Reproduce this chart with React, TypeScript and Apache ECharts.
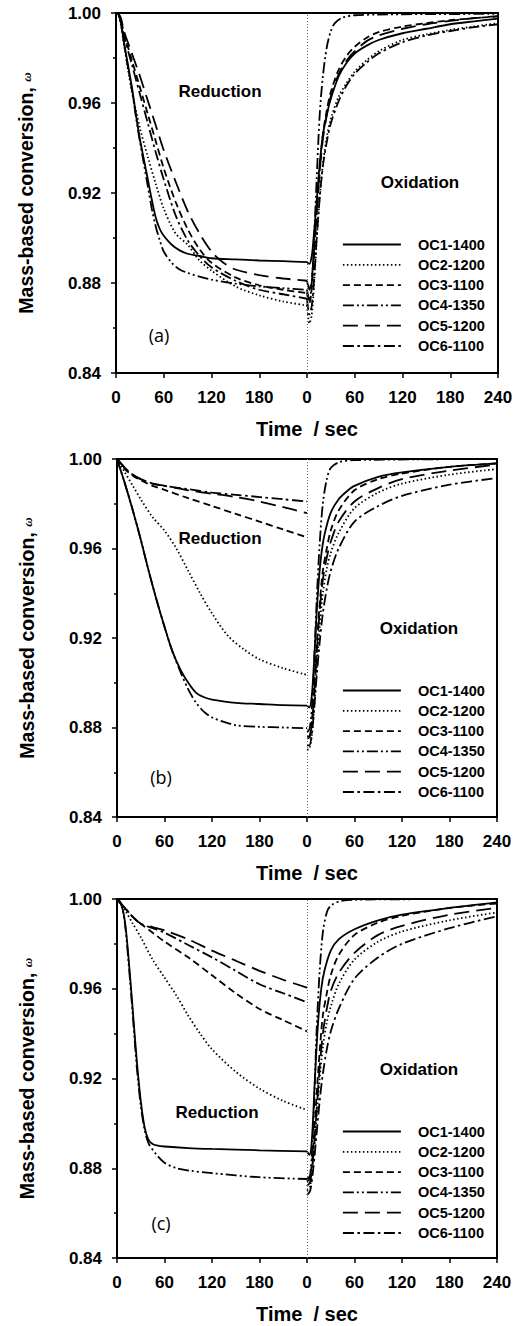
import React, { useEffect, useRef } from "react";
import * as echarts from "echarts";

const NAMES = ["OC1-1400", "OC2-1200", "OC3-1100", "OC4-1350", "OC5-1200", "OC6-1100"];
const X_TICK_LABELS = [0, 60, 120, 180, 0, 60, 120, 180, 240];
const PANEL_TAGS = ["(a)", "(b)", "(c)"];

// ---------- Panel (a) ----------
const aOC1Red = [[0,1.0],[3,0.9995],[6,0.996],[10,0.987],[15,0.977],[20,0.967],[25,0.955],[30,0.944],[35,0.935],[40,0.926],[45,0.917],[50,0.909],[55,0.904],[60,0.901],[70,0.897],[80,0.8945],[90,0.893],[105,0.892],[120,0.891],[150,0.8905],[180,0.89],[210,0.8897],[240,0.8893]];
const aOC2Red = [[0,1.0],[3,0.999],[6,0.995],[10,0.986],[15,0.975],[20,0.965],[30,0.949],[40,0.936],[50,0.924],[60,0.913],[75,0.902],[90,0.897],[105,0.89],[120,0.8855],[150,0.8785],[180,0.8745],[210,0.8718],[240,0.87]];
const aOC3Red = [[0,1.0],[3,0.9995],[6,0.997],[10,0.991],[20,0.979],[30,0.967],[40,0.955],[50,0.943],[60,0.931],[75,0.916],[90,0.904],[105,0.895],[120,0.889],[150,0.8825],[180,0.879],[210,0.877],[240,0.8755]];
const aOC4Red = [[0,1.0],[3,0.9995],[6,0.996],[10,0.987],[15,0.976],[20,0.966],[25,0.954],[30,0.943],[35,0.933],[40,0.923],[45,0.913],[50,0.905],[55,0.899],[60,0.894],[70,0.889],[80,0.886],[90,0.8845],[105,0.8828],[120,0.8815],[150,0.8797],[180,0.8785],[210,0.8777],[240,0.877]];
const aOC5Red = [[0,1.0],[3,0.9995],[6,0.998],[10,0.992],[20,0.982],[30,0.972],[40,0.961],[50,0.95],[60,0.939],[75,0.925],[90,0.912],[105,0.902],[120,0.894],[135,0.889],[150,0.886],[180,0.8835],[210,0.882],[240,0.881]];
const aOC6Red = [[0,1.0],[3,0.9995],[6,0.997],[10,0.99],[20,0.977],[30,0.964],[40,0.951],[50,0.938],[60,0.926],[75,0.91],[90,0.899],[105,0.892],[120,0.887],[150,0.881],[180,0.877],[210,0.875],[240,0.873]];

const aOC1Ox = [[0,0.8893],[3,0.8885],[6,0.892],[8,0.899],[10,0.907],[13,0.92],[16,0.933],[20,0.946],[25,0.955],[30,0.962],[40,0.972],[50,0.978],[60,0.982],[75,0.9855],[90,0.988],[120,0.991],[150,0.993],[180,0.995],[210,0.9963],[240,0.9975]];
const aOC2Ox = [[0,0.87],[3,0.862],[6,0.866],[9,0.88],[12,0.898],[16,0.918],[20,0.933],[25,0.945],[30,0.953],[40,0.963],[50,0.969],[60,0.974],[75,0.979],[90,0.983],[120,0.988],[150,0.9905],[180,0.9925],[210,0.994],[240,0.9955]];
const aOC3Ox = [[0,0.8755],[3,0.871],[6,0.878],[9,0.893],[12,0.91],[16,0.93],[20,0.946],[25,0.957],[30,0.965],[40,0.975],[50,0.981],[60,0.985],[75,0.989],[90,0.9915],[120,0.994],[150,0.9955],[180,0.9968],[210,0.9977],[240,0.9985]];
const aOC4Ox = [[0,0.877],[3,0.872],[6,0.88],[9,0.9],[12,0.925],[16,0.955],[20,0.972],[25,0.985],[30,0.992],[35,0.9955],[45,0.998],[60,0.999],[90,0.9993],[150,0.9995],[240,0.9996]];
const aOC5Ox = [[0,0.881],[3,0.877],[6,0.882],[9,0.895],[12,0.911],[16,0.93],[20,0.944],[25,0.955],[30,0.963],[40,0.973],[50,0.979],[60,0.983],[75,0.9875],[90,0.99],[120,0.993],[150,0.995],[180,0.9965],[210,0.9977],[240,0.9986]];
const aOC6Ox = [[0,0.873],[3,0.866],[6,0.87],[9,0.882],[12,0.899],[16,0.918],[20,0.932],[25,0.943],[30,0.951],[40,0.961],[50,0.968],[60,0.973],[75,0.978],[90,0.982],[120,0.987],[150,0.99],[180,0.992],[210,0.9937],[240,0.995]];

// ---------- Panel (b) ----------
const bOC1Red = [[0,1.0],[10,0.989],[20,0.977],[30,0.964],[40,0.95],[50,0.937],[60,0.925],[70,0.914],[80,0.906],[90,0.9],[100,0.8955],[110,0.8935],[120,0.8925],[150,0.891],[180,0.8905],[210,0.89],[240,0.8898]];
const bOC2Red = [[0,1.0],[10,0.994],[20,0.988],[30,0.982],[45,0.974],[60,0.968],[75,0.96],[90,0.95],[105,0.94],[120,0.931],[140,0.921],[160,0.915],[180,0.9105],[210,0.9065],[240,0.9035]];
const bOC3Red = [[0,1.0],[5,0.998],[10,0.9955],[20,0.9925],[30,0.9905],[45,0.988],[60,0.9862],[90,0.9825],[120,0.979],[150,0.9755],[180,0.972],[210,0.9685],[240,0.965]];
const bOC4Red = [[0,1.0],[10,0.989],[20,0.977],[30,0.964],[40,0.95],[50,0.937],[60,0.925],[70,0.914],[80,0.905],[90,0.897],[100,0.891],[110,0.887],[120,0.8845],[135,0.8825],[150,0.881],[180,0.8803],[210,0.88],[240,0.8797]];
const bOC5Red = [[0,1.0],[5,0.998],[10,0.996],[20,0.993],[30,0.991],[45,0.989],[60,0.988],[90,0.986],[120,0.9845],[150,0.983],[180,0.981],[210,0.9785],[240,0.9758]];
const bOC6Red = [[0,1.0],[5,0.998],[10,0.996],[20,0.993],[30,0.991],[45,0.989],[60,0.988],[90,0.9865],[120,0.985],[150,0.984],[180,0.983],[210,0.982],[240,0.981]];

const bOC1Ox = [[0,0.8898],[3,0.889],[6,0.894],[9,0.91],[12,0.93],[15,0.946],[18,0.957],[22,0.966],[30,0.976],[40,0.982],[50,0.9855],[60,0.988],[90,0.992],[120,0.994],[180,0.9965],[240,0.998]];
const bOC2Ox = [[0,0.87],[3,0.8705],[6,0.876],[9,0.889],[12,0.905],[16,0.925],[20,0.94],[25,0.951],[30,0.958],[40,0.967],[60,0.978],[90,0.985],[120,0.989],[180,0.993],[240,0.9955]];
const bOC3Ox = [[0,0.876],[3,0.876],[6,0.882],[9,0.896],[12,0.915],[16,0.935],[20,0.95],[25,0.96],[30,0.968],[40,0.977],[60,0.986],[90,0.991],[120,0.9935],[180,0.9965],[240,0.998]];
const bOC4Ox = [[0,0.878],[3,0.879],[6,0.888],[9,0.908],[12,0.935],[16,0.962],[20,0.98],[25,0.991],[30,0.996],[40,0.9985],[60,0.9995],[240,1.0]];
const bOC5Ox = [[0,0.875],[3,0.8755],[6,0.881],[9,0.894],[12,0.912],[16,0.932],[20,0.946],[25,0.956],[30,0.963],[40,0.972],[60,0.981],[90,0.987],[120,0.991],[180,0.9948],[240,0.9975]];
const bOC6Ox = [[0,0.872],[3,0.872],[6,0.877],[9,0.888],[12,0.902],[16,0.918],[20,0.931],[25,0.942],[30,0.95],[40,0.96],[60,0.972],[90,0.979],[120,0.9835],[180,0.9885],[240,0.9915]];

// ---------- Panel (c) ----------
const cOC1Red = [[0,1.0],[5,0.998],[10,0.99],[15,0.972],[20,0.95],[25,0.928],[30,0.91],[35,0.898],[40,0.8925],[45,0.8908],[50,0.8902],[60,0.8897],[90,0.889],[120,0.8886],[180,0.888],[240,0.8875]];
const cOC2Red = [[0,1.0],[10,0.995],[20,0.989],[30,0.983],[45,0.973],[60,0.965],[75,0.957],[90,0.948],[105,0.94],[120,0.933],[150,0.923],[180,0.9155],[210,0.91],[240,0.906]];
const cOC3Red = [[0,1.0],[5,0.998],[10,0.996],[20,0.992],[30,0.989],[45,0.985],[60,0.981],[90,0.974],[120,0.966],[150,0.958],[180,0.951],[210,0.946],[240,0.941]];
const cOC4Red = [[0,1.0],[5,0.998],[10,0.989],[15,0.97],[20,0.948],[25,0.925],[30,0.908],[35,0.897],[40,0.891],[50,0.886],[60,0.8825],[75,0.88],[90,0.879],[120,0.8778],[180,0.876],[240,0.8752]];
const cOC5Red = [[0,1.0],[5,0.998],[10,0.996],[20,0.992],[30,0.989],[45,0.9875],[60,0.986],[90,0.982],[120,0.977],[150,0.9725],[180,0.968],[210,0.964],[240,0.9605]];
const cOC6Red = [[0,1.0],[5,0.998],[10,0.996],[20,0.992],[30,0.989],[45,0.987],[60,0.985],[90,0.9795],[120,0.974],[150,0.968],[180,0.962],[210,0.958],[240,0.954]];

const cOC1Ox = [[0,0.8875],[3,0.886],[6,0.892],[10,0.92],[14,0.945],[18,0.96],[22,0.968],[30,0.977],[40,0.982],[60,0.9865],[90,0.9905],[120,0.993],[180,0.996],[240,0.9985]];
const cOC2Ox = [[0,0.87],[4,0.872],[8,0.884],[12,0.902],[16,0.92],[20,0.934],[25,0.945],[30,0.952],[40,0.962],[60,0.973],[90,0.981],[120,0.9855],[180,0.9905],[240,0.994]];
const cOC3Ox = [[0,0.874],[4,0.876],[8,0.89],[12,0.912],[16,0.932],[20,0.948],[25,0.958],[30,0.966],[40,0.975],[60,0.984],[90,0.9895],[120,0.9925],[180,0.996],[240,0.998]];
const cOC4Ox = [[0,0.8752],[4,0.877],[8,0.9],[12,0.94],[16,0.968],[20,0.985],[25,0.994],[30,0.997],[45,0.9993],[90,0.9998],[240,1.0]];
const cOC5Ox = [[0,0.872],[4,0.874],[8,0.886],[12,0.905],[16,0.925],[20,0.94],[25,0.951],[30,0.959],[40,0.967],[60,0.976],[90,0.984],[120,0.988],[180,0.993],[240,0.996]];
const cOC6Ox = [[0,0.868],[4,0.87],[8,0.88],[12,0.895],[16,0.91],[20,0.922],[25,0.933],[30,0.941],[40,0.951],[60,0.9645],[90,0.974],[120,0.98],[180,0.987],[240,0.9923]];

const RED = [
  [aOC1Red, aOC2Red, aOC3Red, aOC4Red, aOC5Red, aOC6Red],
  [bOC1Red, bOC2Red, bOC3Red, bOC4Red, bOC5Red, bOC6Red],
  [cOC1Red, cOC2Red, cOC3Red, cOC4Red, cOC5Red, cOC6Red],
];
const OX = [
  [aOC1Ox, aOC2Ox, aOC3Ox, aOC4Ox, aOC5Ox, aOC6Ox],
  [bOC1Ox, bOC2Ox, bOC3Ox, bOC4Ox, bOC5Ox, bOC6Ox],
  [cOC1Ox, cOC2Ox, cOC3Ox, cOC4Ox, cOC5Ox, cOC6Ox],
];

const FONT = "'Liberation Sans', Arial, sans-serif";
const DASHES: any[] = ["solid", [1.5, 2.5], [7, 4], [11, 3, 2, 3, 2, 3], [15, 7], [11, 3.5, 2.5, 3.5]];

const GRIDS = [
  { left: 116, top: 13, width: 382, height: 360 },
  { left: 117, top: 459, width: 380, height: 358 },
  { left: 117, top: 899, width: 380, height: 359 },
];
const TEXT_POS = [
  { red: [220, 91], ox: [420, 182], tag: [159, 335] },
  { red: [220, 538], ox: [419, 628], tag: [161, 777] },
  { red: [217, 1112], ox: [419, 1069], tag: [161, 1223] },
];
const LEGEND_TOP = [232, 678, 1119];

export default function App() {
  const ref = useRef<HTMLDivElement>(null);
  useEffect(() => {
    if (!ref.current) return;
    const chart = echarts.init(ref.current, undefined, { renderer: "svg" });

    const grid = GRIDS.map((g) => ({
      ...g,
      show: true,
      borderColor: "#000",
      borderWidth: 2,
      backgroundColor: "transparent",
    }));

    const xAxis = GRIDS.map((_, i) => ({
      type: "value",
      gridIndex: i,
      min: 0,
      max: 480,
      interval: 60,
      name: "Time  / sec",
      nameLocation: "middle",
      nameGap: 46,
      nameTextStyle: { fontFamily: FONT, fontWeight: "bold", fontSize: 20, color: "#000" },
      axisLine: { show: true, lineStyle: { color: "#000", width: 2 } },
      axisTick: { show: true, length: 5, lineStyle: { color: "#000", width: 1.5 } },
      axisLabel: {
        margin: 16,
        fontFamily: FONT,
        fontWeight: "bold",
        fontSize: 17,
        color: "#000",
        formatter: (v: number) => String(X_TICK_LABELS[Math.round(v / 60)]),
      },
      splitLine: { show: false },
    }));

    const yAxis = GRIDS.map((_, i) => ({
      type: "value",
      gridIndex: i,
      min: 0.84,
      max: 1.0,
      interval: 0.04,
      name: "Mass-based conversion, {w|ω}",
      nameLocation: "middle",
      nameGap: 80,
      nameTextStyle: {
        fontFamily: FONT,
        fontWeight: "bold",
        fontSize: 19.5,
        color: "#000",
        rich: {
          w: { fontFamily: "'Liberation Serif', serif", fontStyle: "italic", fontWeight: "bold", fontSize: 13, color: "#000" },
        },
      },
      axisLine: { show: true, lineStyle: { color: "#000", width: 2 } },
      axisTick: { show: true, length: 5, lineStyle: { color: "#000", width: 1.5 } },
      minorTick: { show: true, splitNumber: 2, length: 3, lineStyle: { color: "#000", width: 1.5 } },
      axisLabel: {
        margin: 15,
        fontFamily: FONT,
        fontWeight: "bold",
        fontSize: 17,
        color: "#000",
        formatter: (v: number) => v.toFixed(2),
      },
      splitLine: { show: false },
      minorSplitLine: { show: false },
    }));

    const series: any[] = [];
    for (let p = 0; p < 3; p++) {
      for (let k = 0; k < 6; k++) {
        const data: any[] = [];
        RED[p][k].forEach(([t, v]) => data.push([t, v]));
        data.push([240, "-"]);
        OX[p][k].forEach(([t, v]) => data.push([240 + t, v]));
        const s: any = {
          name: NAMES[k],
          type: "line",
          xAxisIndex: p,
          yAxisIndex: p,
          data,
          smooth: 0.3,
          showSymbol: false,
          symbol: "none",
          connectNulls: false,
          lineStyle: { color: "#000", width: 1.8, type: DASHES[k] },
          itemStyle: { color: "#000" },
          emphasis: { disabled: true },
          z: 3,
        };
        if (k === 0) {
          s.markLine = {
            silent: true,
            symbol: "none",
            label: { show: false },
            lineStyle: { color: "#666", width: 1, type: [1, 2] },
            data: [{ xAxis: 240 }],
          };
        }
        series.push(s);
      }
    }

    const legend = LEGEND_TOP.map((top) => ({
      orient: "vertical",
      left: 337,
      top,
      itemWidth: 58,
      itemHeight: 14,
      itemGap: 5.3,
      selectedMode: false,
      data: NAMES,
      itemStyle: { color: "rgba(0,0,0,0)", borderColor: "rgba(0,0,0,0)", borderWidth: 0, opacity: 0 },
      lineStyle: { width: 1.8 },
      textStyle: {
        fontFamily: FONT,
        fontWeight: "bold",
        fontSize: 14.5,
        color: "#000",
        padding: [0, 0, 0, 12],
      },
    }));

    const graphic: any[] = [];
    TEXT_POS.forEach((tp, i) => {
      graphic.push({
        type: "text",
        x: tp.red[0],
        y: tp.red[1],
        style: { text: "Reduction", font: `bold 17px ${FONT}`, fill: "#000", align: "center", verticalAlign: "middle" },
      });
      graphic.push({
        type: "text",
        x: tp.ox[0],
        y: tp.ox[1],
        style: { text: "Oxidation", font: `bold 17px ${FONT}`, fill: "#000", align: "center", verticalAlign: "middle" },
      });
      graphic.push({
        type: "text",
        x: tp.tag[0],
        y: tp.tag[1],
        style: { text: PANEL_TAGS[i], font: `18px 'Open Sans', ${FONT}`, fill: "#000", align: "center", verticalAlign: "middle" },
      });
    });

    chart.setOption({
      animation: false,
      backgroundColor: "#fff",
      grid,
      xAxis,
      yAxis,
      legend,
      series,
      graphic,
    });
    return () => chart.dispose();
  }, []);

  return (
    <div
      ref={ref}
      style={{ position: "fixed", left: 0, top: 0, width: 519, height: 1326, background: "#fff" }}
    />
  );
}
